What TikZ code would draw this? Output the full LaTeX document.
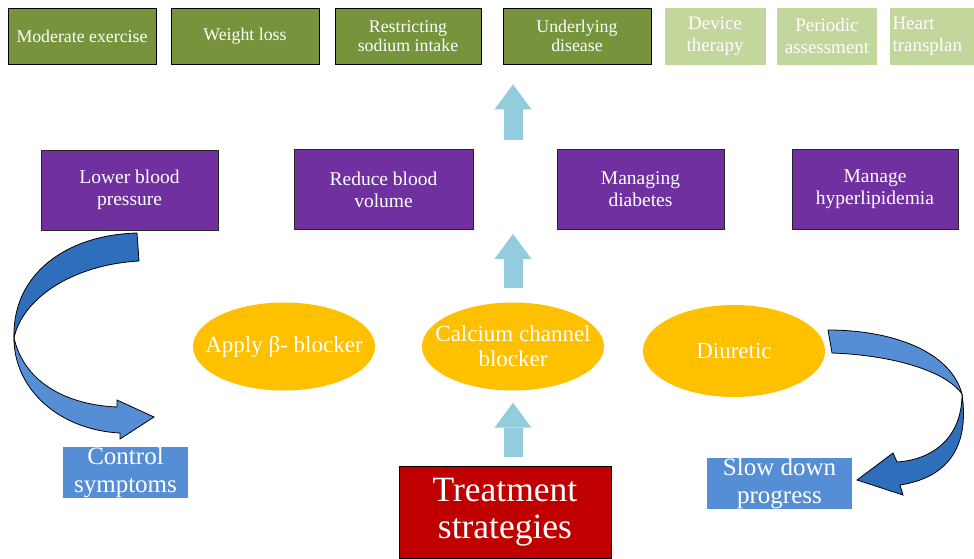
\documentclass[tikz,border=0pt]{standalone}
\usepackage{fontspec}
\setmainfont{Liberation Serif}
\usepackage{tikz}
\usetikzlibrary{positioning}
\usetikzlibrary{shapes.geometric}
\usetikzlibrary{arrows.meta}
\definecolor{leafgreen}{HTML}{77933C}
\definecolor{palegreen}{HTML}{C3D69B}
\definecolor{aimpurple}{HTML}{7030A0}
\definecolor{drugorange}{HTML}{FFC000}
\definecolor{outcomeblue}{HTML}{558ED5}
\definecolor{ribbonblue}{HTML}{2F6EBA}
\definecolor{liftblue}{HTML}{93CDDD}
\definecolor{rootred}{HTML}{C00000}

\begin{document}
\begin{tikzpicture}[x=1pt,y=-1pt,
        habit/.style={draw=black,line width=.8pt,fill=leafgreen,text=white,minimum width=148pt,minimum height=56pt,inner sep=0pt,align=center,font=\fontsize{17.8}{19.5}\selectfont},
        later/.style={fill=palegreen,text=white,minimum width=101pt,minimum height=57pt,inner sep=0pt,align=center,font=\fontsize{19}{22}\selectfont},
        aim/.style={draw=black!85,line width=1pt,fill=aimpurple,text=white,minimum height=80pt,inner sep=0pt,align=center,font=\fontsize{19.5}{22}\selectfont},
        drug/.style={ellipse,fill=drugorange,text=white,minimum width=182pt,minimum height=88pt,inner xsep=-18pt,inner ysep=0pt,align=center,font=\fontsize{23}{25}\selectfont},
        outcome/.style={fill=outcomeblue,text=white,minimum width=145pt,minimum height=47pt,inner sep=0pt,align=center,font=\fontsize{25}{28}\selectfont},
        root/.style={draw=black,line width=1pt,fill=rootred,text=white,minimum width=212pt,minimum height=92pt,inner sep=0pt,align=center,font=\fontsize{35.5}{37}\selectfont},
        liftarrow/.style={draw=liftblue,line width=19pt,-{Triangle[width=37pt,length=25pt,line width=0pt]}},
        ribbon/.style={draw=black,line width=.8pt,line join=miter}]
        \useasboundingbox (0,0) rectangle (974,559);

        \node[habit] (exercise) at (82,36) {Moderate exercise};
        \node[habit] (weight) at (245,36) {Weight loss};
        \node[habit,minimum width=146pt] (sodium) at (408,36) {Restricting\\sodium intake};
        \node[habit] (under) at (577,36) {Underlying\\disease};
        \node[later] (device) at (715,36.5) {Device\\therapy};
        \node[later,minimum width=100pt] (assess) at (827,36.5) {Periodic\\assessment};
        \node[later,minimum width=85pt,text width=80pt,align=left] (heart) at (932.5,36.5) {Heart\\transplan};

        \node[aim,minimum width=177pt] (lowerbp) at (129.5,190) {Lower blood\\pressure};
        \node[aim,minimum width=179pt] (reduce) at (383.5,189.5) {Reduce blood\\volume};
        \node[aim,minimum width=167pt] (diabetes) at (640.5,189.5) {Managing\\diabetes};
        \node[aim,minimum width=166pt] (lipid) at (875,189.5) {Manage\\hyperlipidemia};

        \node[drug] (beta) at (284,346.5) {Apply β- blocker};
        \node[drug] (calc) at (513,346.5) {Calcium channel\\blocker};
        \node[drug,minimum height=92pt] (diur) at (734,351) {Diuretic};

        \node[outcome,minimum width=125pt] (control) at (125.5,472.5) {Control\\symptoms};
        \node[outcome] (slow) at (779.5,483.5) {Slow down\\progress};
        \node[root] (treat) at (505,512) {Treatment\\strategies};

        \draw[liftarrow,shorten <=9pt,shorten >=12pt] (calc.south |- treat.north) -- (calc.south);
        \draw[liftarrow,shorten <=14pt,shorten >=4pt] (calc.north) -- (calc.north |- reduce.south);
        \draw[liftarrow,shorten <=9pt,shorten >=20pt] (calc.north |- reduce.north) -- (calc.north |- under.south);

        \draw[ribbon,fill=ribbonblue] (137,233) .. controls (65,235) and (12,275) .. (14,338)
                .. controls (22,300) and (70,265) .. (139,261) -- cycle;
        \draw[ribbon,fill=outcomeblue] (14,338) .. controls (25,385) and (70,405) .. (117,407)
                -- (117,400) -- (154,417) -- (120,439) -- (120,433)
                .. controls (60,430) and (14,390) .. (14,338) -- cycle;

        \draw[ribbon,fill=outcomeblue] (828,330) .. controls (890,330) and (950,350) .. (962,394)
                .. controls (945,370) and (890,355) .. (832,353) -- cycle;
        \draw[ribbon,fill=ribbonblue] (962,394) .. controls (962,440) and (930,460) .. (897,462)
                -- (893,453) -- (857,480) -- (903,495) -- (900,485)
                .. controls (945,478) and (970,450) .. (962,394) -- cycle;
      \end{tikzpicture}
\end{document}
